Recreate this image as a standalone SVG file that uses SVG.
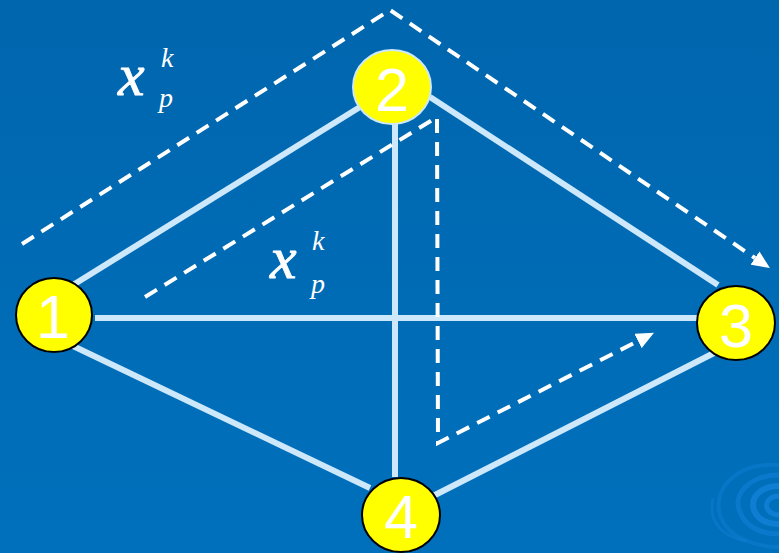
<svg xmlns="http://www.w3.org/2000/svg" width="779" height="553" viewBox="0 0 779 553">
<defs>
<linearGradient id="bg" x1="0" y1="0" x2="0" y2="1">
<stop offset="0" stop-color="#0066AE"/>
<stop offset="1" stop-color="#0070BC"/>
</linearGradient>
<marker id="ah" viewBox="0 0 18 16" refX="0" refY="8" markerWidth="18" markerHeight="16" markerUnits="userSpaceOnUse" orient="auto">
<path d="M0,0 L18,8 L0,16 z" fill="#FFFFFF"/>
</marker>
<style>
.edge{stroke:#CCE8FA;stroke-width:6;fill:none}
.dash{stroke:#FFFFFF;stroke-width:4;fill:none;stroke-dasharray:14 9}
.node{fill:#FFFF00;stroke:#000000;stroke-width:2}
.num{font-family:"Liberation Sans",Arial,sans-serif;font-size:61px;fill:#FFFFFF;text-anchor:middle}
.var{font-family:"Liberation Serif","Times New Roman",serif;font-style:italic;fill:#FFFFFF}
.big{font-size:60px;stroke:#FFFFFF;stroke-width:0.8}
.small{font-size:28px}
.swirl{fill:none;stroke:#1585DE}
</style>
</defs>
<rect width="779" height="553" fill="url(#bg)"/>
<g id="swirl" opacity="0.7">
<path class="swirl" d="M779,465 C738,462 712,488 720,515 C727,537 755,547 779,547" stroke-width="4" opacity="0.5"/>
<path class="swirl" d="M779,475 C750,475 732,494 740,512 C746,529 765,534 779,534" stroke-width="5" opacity="0.7"/>
<path class="swirl" d="M779,486 C760,486 750,498 754,510 C758,521 769,524 779,524" stroke-width="6"/>
<path class="swirl" d="M779,496 C770,496 765,502 767,508 C769,513 775,515 779,515" stroke-width="5"/>
<path class="swirl" d="M713,498 C708,520 720,536 746,541" stroke-width="3" opacity="0.5"/>
</g>
<g id="connectors">
<line class="edge" x1="73" y1="285" x2="360" y2="107"/>
<line class="edge" x1="430" y1="97" x2="718" y2="285"/>
<line class="edge" x1="95" y1="318" x2="698" y2="318"/>
<line class="edge" x1="73" y1="346" x2="370" y2="488"/>
<line class="edge" x1="433" y1="496" x2="716" y2="352"/>
<line class="edge" x1="395" y1="122" x2="395" y2="477"/>
<path class="dash" d="M22,244 L390,10 L755,258" marker-end="url(#ah)"/>
<path class="dash" d="M145,297 L437,117 L438,443 L638,341" marker-end="url(#ah)"/>
</g>
<g id="label-top">
<text class="var big" x="118" y="95">x</text>
<text class="var small" x="161" y="67">k</text>
<text class="var small" x="159" y="107">p</text>
</g>
<g id="label-mid">
<text class="var big" x="270" y="278">x</text>
<text class="var small" x="312" y="250">k</text>
<text class="var small" x="311" y="293">p</text>
</g>
<g id="node1">
<ellipse class="node" cx="54" cy="315" rx="38" ry="37"/>
<text class="num" x="53" y="338">1</text>
</g>
<g id="node2">
<ellipse class="node" cx="392" cy="87" rx="39" ry="37" style="stroke:#CCE8FA"/>
<text class="num" x="392" y="111">2</text>
</g>
<g id="node3">
<ellipse class="node" cx="736" cy="323" rx="39" ry="37"/>
<text class="num" x="736" y="347">3</text>
</g>
<g id="node4">
<ellipse class="node" cx="401" cy="515" rx="39" ry="37"/>
<text class="num" x="401" y="538">4</text>
</g>
</svg>
